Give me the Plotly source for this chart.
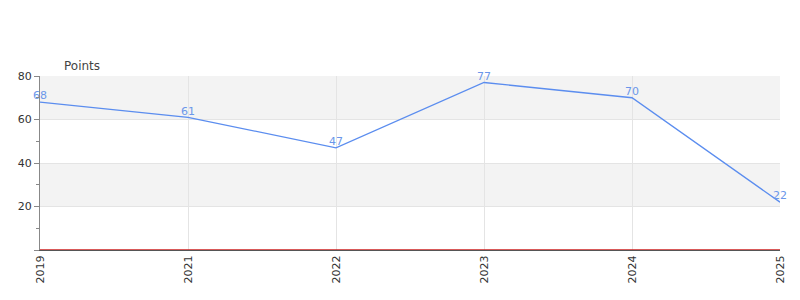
import plotly.graph_objects as go

years = ["2019", "2021", "2022", "2023", "2024", "2025"]
points = [68, 61, 47, 77, 70, 22]
y_ticks = [0, 20, 40, 60, 80]
y_tick_labels = ["", "20", "40", "60", "80"]
bands = [(20, 40), (60, 80)]

fig = go.Figure()
fig.add_trace(go.Scatter(
    x=years, y=points, mode="lines+text",
    text=[str(v) for v in points], textposition="top center",
    textfont=dict(color="#6b97ea", size=11, family="DejaVu Sans"),
    line=dict(color="#5B8DEF", width=1.3),
    cliponaxis=False, hoverinfo="skip", showlegend=False,
))

shapes = []
for lo, hi in bands:
    shapes.append(dict(type="rect", xref="paper", yref="y", x0=0, x1=1, y0=lo, y1=hi,
                       fillcolor="#f3f3f3", line=dict(width=0), layer="below"))
shapes.append(dict(type="line", xref="paper", yref="y", x0=0, x1=1, y0=0, y1=0,
                   line=dict(color="#cc2222", width=1.5), layer="above"))

fig.update_layout(
    width=800, height=300,
    margin=dict(l=40, r=20, t=76, b=50),
    paper_bgcolor="white", plot_bgcolor="white",
    font=dict(family="DejaVu Sans", size=11, color="#333"),
    shapes=shapes,
    xaxis=dict(type="category", range=[0, 5], showgrid=True, gridcolor="#e4e4e4",
               tickangle=-90, ticks="", showline=True, linecolor="#555", linewidth=1,
               tickfont=dict(size=11, color="#333"), zeroline=False),
    yaxis=dict(range=[0, 80], tickvals=y_ticks, ticktext=y_tick_labels,
               showgrid=True, gridcolor="#e4e4e4", ticks="outside", ticklen=5,
               tickcolor="#888", showline=True, linecolor="#888", linewidth=1,
               zeroline=False, tickfont=dict(size=11, color="#333"),
               minor=dict(tickvals=[10, 30, 50, 70], ticks="outside", ticklen=3,
                          tickcolor="#888", showgrid=False)),
    annotations=[dict(text="Points", xref="paper", yref="paper", x=0.0297, y=1.0,
                      xanchor="left", yanchor="bottom", yshift=1, showarrow=False,
                      font=dict(size=12, color="#444", family="DejaVu Sans"))],
)

fig.write_html("out.html")
